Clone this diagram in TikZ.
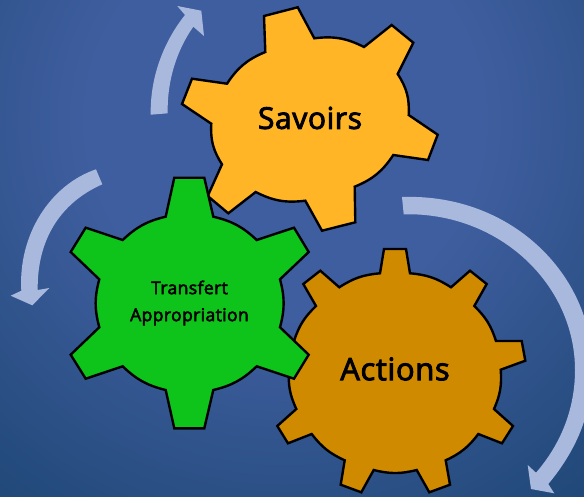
\documentclass[tikz,border=0pt]{standalone}
\usepackage{fontspec}
\setmainfont{Open Sans}
\newfontfamily\gearfont[FakeBold=3,LetterSpace=2]{Open Sans}
\definecolor{bgin}{HTML}{3F5E9F}
\definecolor{bgout}{HTML}{1A4470}
\definecolor{arrowblue}{HTML}{A9B9DE}
\definecolor{gearorange}{HTML}{FFB526}
\definecolor{geargreen}{HTML}{0EC31A}
\definecolor{gearbrown}{HTML}{CF8A00}
\pgfdeclareradialshading{bgshade}{\pgfpoint{0bp}{0bp}}{color(0bp)=(bgin); color(7bp)=(bgin); color(19bp)=(bgout); color(50bp)=(bgout)}
\tikzset{
  gear/.style={draw=black,line width=2.4pt,line join=miter},
  flow/.style={fill=arrowblue,draw=none},
  label/.style={text=black,align=center,inner sep=0pt}
}
\begin{document}
\begin{tikzpicture}[x=1pt,y=-1pt]
\useasboundingbox (0,0) rectangle (584,496);
\begin{scope}
\clip (0,0) rectangle (584,496);
\shade[shading=bgshade] (285,120) circle (700);
% arrows
\fill[flow] (150.7,114.7) .. controls (150,75) and (165,40) .. (185,15) -- (177.3,6) -- (201.3,10.7) -- (204,36) -- (193.3,26.7) .. controls (177,50) and (167,80) .. (167.7,113.3) -- cycle;
\fill[flow] (96,169.3) .. controls (50,185) and (18,235) .. (21.3,290.7) -- (10.7,295.7) -- (32.3,305.3) -- (49.3,288) -- (37.7,290) .. controls (37,240) and (60,203) .. (102.3,184.3) -- cycle;
\fill[flow] (402,197) .. controls (515,193) and (596,280) .. (592,372) .. controls (592,415) and (575,452) .. (548.3,484) -- (554.3,493.3) -- (531,489) -- (527.7,465) -- (536,472.7) .. controls (560,445) and (575,410) .. (575,370) .. controls (575,285) and (500,212) .. (403.7,214.3) -- cycle;
% brown
\draw[gear,fill=gearbrown] (384,249) -- (406,249) -- (410,273.3) to[bend left=14] (451,287.3) -- (470,270.7) -- (486.7,284) -- (474.3,306) to[bend left=14] (496,341) -- (521.7,341) -- (525.3,360.7) -- (500.7,369.7) to[bend left=14] (494,409) -- (513,426) -- (502,443.3) -- (478.3,434) to[bend left=14] (445.7,460.3) -- (450,484.7) -- (429.3,492.3) -- (416.7,470) to[bend left=14] (373.7,470) -- (361.3,492.3) -- (340.7,484.7) -- (344.7,460.3) to[bend left=14] (311.7,434) -- (288,443.3) -- (277.3,426) -- (296.3,409) to[bend left=14] (289,369.7) -- (268.3,360.7) -- (271.7,341) -- (294,341) to[bend left=14] (316,306) -- (303.3,284) -- (320.3,270.7) -- (339.3,287.3) to[bend left=14] (380,273.3) -- cycle;
% orange
\draw[gear,fill=gearorange] (264,16) -- (297.7,7.3) -- (314.3,38.3) to[bend left=17] (364,47) -- (391.7,25) -- (413.3,42.7) -- (397.7,74) to[bend left=18] (408.7,115) -- (437.7,134.7) -- (428,160) -- (393.3,155) to[bend left=17] (354.7,186.7) -- (355.3,222.3) -- (322,230.7) -- (305.3,200.7) to[bend left=17] (255.7,192) -- (228.3,213.3) -- (207.7,196) -- (222,164.3) to[bend left=18] (211.3,123.7) -- (182,104) -- (192,78.7) -- (227,83.7) to[bend left=17] (265.3,52) -- cycle;
% green
\draw[gear,fill=geargreen] (174.3,177.7) -- (204.3,177.7) -- (213.3,216.7) to[bend left=15] (256.7,240) -- (294,227.7) -- (308.7,252) -- (280,279.3) to[bend left=15] (280,327.3) -- (308.7,354.7) -- (294,378.7) -- (256.7,366.3) to[bend left=15] (213.3,390) -- (204.3,428.3) -- (174.3,428.3) -- (165.7,390) to[bend left=15] (122.7,366.3) -- (85.7,378.7) -- (70.7,354.7) -- (99.3,327.3) to[bend left=15] (99.3,279.3) -- (70.7,252) -- (85.7,227.7) -- (122.7,240) to[bend left=15] (165.7,216.7) -- cycle;
\end{scope}
\node[label,font=\gearfont\fontsize{30}{32}\selectfont] (savoirs) at (310,118) {Savoirs};
\node[label,font=\gearfont\fontsize{17.6}{27}\selectfont] (transfert) at (189.5,303) {Transfert\\Appropriation};
\node[label,font=\gearfont\fontsize{31}{32}\selectfont] (actions) at (395,369) {Actions};
\end{tikzpicture}
\end{document}
